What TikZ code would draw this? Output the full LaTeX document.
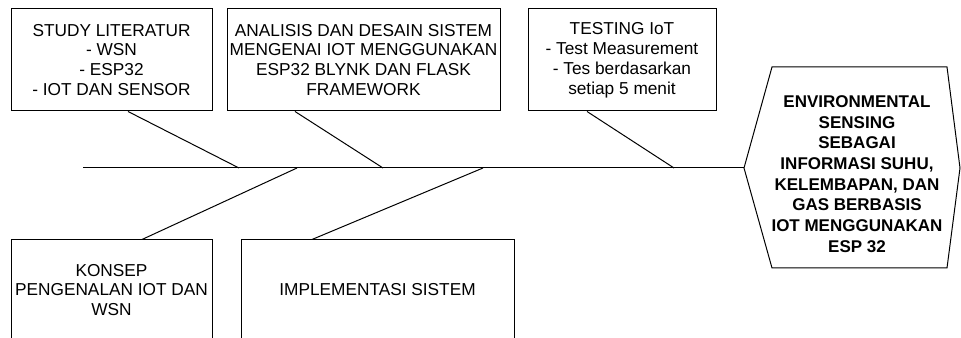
\documentclass[tikz,border=0pt]{standalone}
\usepackage{fontspec}
\setmainfont{Liberation Sans}
\usetikzlibrary{positioning}

\tikzset{
	causebox/.style={draw, line width=0.75pt, inner sep=0pt, align=center,
		font=\fontsize{13}{15}\selectfont},
	bone/.style={line width=0.75pt}
}

\begin{document}
\begin{tikzpicture}
	% scaling params (cm per pixel)
	\pgfmathparse{0.02646}\let\s=\pgfmathresult
	\useasboundingbox (0, 0) rectangle (961*\s, 338*\s);
	% upper causes
	\node[causebox, minimum width=201*\s cm, minimum height=102*\s cm] (study) at (111.5*\s, 278*\s)
		{STUDY LITERATUR\\- WSN\\- ESP32\\- IOT DAN SENSOR};
	\node[causebox, minimum width=273*\s cm, minimum height=102*\s cm] (analisis) at (363.5*\s, 278*\s)
		{ANALISIS DAN DESAIN SISTEM\\MENGENAI IOT MENGGUNAKAN\\ESP32 BLYNK DAN FLASK\\FRAMEWORK};
	\node[causebox, minimum width=188*\s cm, minimum height=102*\s cm] (testing) at (622*\s, 278*\s)
		{TESTING IoT\\- Test Measurement\\- Tes berdasarkan\\setiap 5 menit};
	% lower causes
	\node[causebox, minimum width=201*\s cm, minimum height=100*\s cm] (konsep) at (111.5*\s, 48*\s)
		{KONSEP\\PENGENALAN IOT DAN\\WSN};
	\node[causebox, minimum width=273*\s cm, minimum height=100*\s cm] (implementasi) at (377.5*\s, 48*\s)
		{IMPLEMENTASI SISTEM};
	% effect (head)
	\coordinate (tip) at (744*\s, 170*\s);
	\draw [line width=0.75pt] (tip) -- (772*\s, 271*\s) -- (947*\s, 271*\s) -- (960*\s, 170*\s)
		-- (947*\s, 70*\s) -- (772*\s, 70*\s) -- cycle;
	\node[align=center, font=\fontsize{12.8}{15.6}\selectfont\bfseries] (head) at (857*\s, 164*\s)
		{ENVIRONMENTAL\\SENSING\\SEBAGAI\\INFORMASI SUHU,\\KELEMBAPAN, DAN\\GAS BERBASIS\\IOT MENGGUNAKAN\\ESP 32};
	% spine
	\coordinate (tail) at (83*\s, 170*\s);
	\coordinate (j1) at (239*\s, 170*\s);
	\coordinate (j2) at (383*\s, 170*\s);
	\coordinate (j3) at (674*\s, 170*\s);
	\coordinate (j4) at (297*\s, 170*\s);
	\coordinate (j5) at (483*\s, 170*\s);
	\draw [bone] (tail) -- (tip);
	% bones
	\draw [bone] ([xshift=16.5*\s cm]study.south) -- (j1);
	\draw [bone] ([xshift=-68.5*\s cm]analisis.south) -- (j2);
	\draw [bone] ([xshift=-35*\s cm]testing.south) -- (j3);
	\draw [bone] ([xshift=30.5*\s cm]konsep.north) -- (j4);
	\draw [bone] ([xshift=-65.5*\s cm]implementasi.north) -- (j5);
\end{tikzpicture}
\end{document}
